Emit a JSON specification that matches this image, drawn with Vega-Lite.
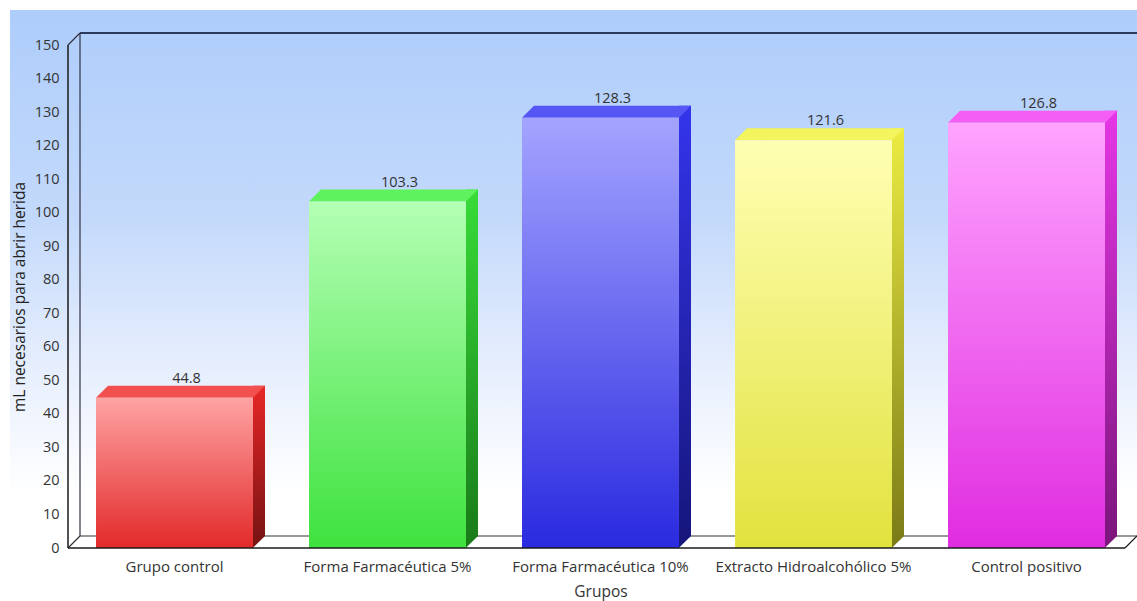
{
  "$schema": "https://vega.github.io/schema/vega-lite/v6.json",
  "width": 1127,
  "height": 591,
  "autosize": {"type": "none"},
  "padding": {"left": 10, "top": 10, "right": 0, "bottom": 0},
  "background": "white",
  "config": {
    "font": "Open Sans",
    "view": {
      "stroke": null,
      "fill": {"gradient": "linear", "x1": 0, "y1": 0, "x2": 0, "y2": 1,
        "stops": [
          {"offset": 0, "color": "#aecdfb"},
          {"offset": 0.35, "color": "#c3d9fb"},
          {"offset": 0.6, "color": "#e6eefd"},
          {"offset": 0.82, "color": "#ffffff"},
          {"offset": 1, "color": "#ffffff"}
        ]}
    },
    "axis": {"grid": false},
    "axisY": {"offset": -58, "domain": false, "ticks": false, "tickSize": 0, "labelPadding": 9, "tickCount": 15,
              "labelOverlap": false, "labelFontSize": 14.5, "labelColor": "#333333", "labelFont": "Open Sans",
              "titleFont": "Open Sans", "titleFontSize": 15.5, "titleFontWeight": "normal", "titleColor": "#222222", "titlePadding": 7},
    "axisX": {"offset": -53, "domain": false, "ticks": false, "tickSize": 0, "labelPadding": 11, "labelAngle": 0,
              "labelFontSize": 15, "labelColor": "#333333", "labelLimit": 400, "labelFont": "Open Sans", "labelOverlap": false,
              "titleFont": "Open Sans", "titleFontSize": 15.5, "titleFontWeight": "normal", "titleColor": "#333333", "titlePadding": 10}
  },
  "data": {
    "values": [
      {"grupo": "Grupo control", "valor": 44.8},
      {"grupo": "Forma Farmacéutica 5%", "valor": 103.3},
      {"grupo": "Forma Farmacéutica 10%", "valor": 128.3},
      {"grupo": "Extracto Hidroalcohólico 5%", "valor": 121.6},
      {"grupo": "Control positivo", "valor": 126.8}
    ]
  },
  "resolve": {"scale": {"x": "independent"}},
  "layer": [
    {
      "data": {"values": [{}]},
      "layer": [
        {"mark": {"type": "rule", "stroke": "#333344", "strokeWidth": 1.2, "xOffset": 12, "x2Offset": 12, "yOffset": -12, "y2Offset": -12},
         "encoding": {
           "x": {"datum": 0, "type": "quantitative", "scale": {"domain": [0, 1], "range": [58, 1115]}, "axis": null},
           "x2": {"datum": 0},
           "y": {"datum": 0, "type": "quantitative", "scale": {"domain": [0, 150], "range": [538, 35], "nice": false}, "title": "mL necesarios para abrir herida"},
           "y2": {"datum": 150}}},
        {"mark": {"type": "rule", "stroke": "#2b3a5c", "strokeWidth": 2, "xOffset": 12, "x2Offset": 12, "yOffset": -12, "y2Offset": -12},
         "encoding": {
           "x": {"datum": 0, "type": "quantitative", "scale": {"domain": [0, 1], "range": [58, 1115]}, "axis": null},
           "x2": {"datum": 1.05},
           "y": {"datum": 150, "type": "quantitative", "scale": {"domain": [0, 150], "range": [538, 35], "nice": false}, "title": "mL necesarios para abrir herida"},
           "y2": {"datum": 150}}},
        {"mark": {"type": "rule", "stroke": "#333344", "strokeWidth": 1.2, "x2Offset": 12, "y2Offset": -12},
         "encoding": {
           "x": {"datum": 0, "type": "quantitative", "scale": {"domain": [0, 1], "range": [58, 1115]}, "axis": null},
           "x2": {"datum": 0},
           "y": {"datum": 150, "type": "quantitative", "scale": {"domain": [0, 150], "range": [538, 35], "nice": false}, "title": "mL necesarios para abrir herida"},
           "y2": {"datum": 150}}},
        {"mark": {"type": "rule", "stroke": "#333333", "strokeWidth": 1.2, "x2Offset": 12, "y2Offset": -12},
         "encoding": {
           "x": {"datum": 0, "type": "quantitative", "scale": {"domain": [0, 1], "range": [58, 1115]}, "axis": null},
           "x2": {"datum": 0},
           "y": {"datum": 0, "type": "quantitative", "scale": {"domain": [0, 150], "range": [538, 35], "nice": false}, "title": "mL necesarios para abrir herida"},
           "y2": {"datum": 0}}},
        {"mark": {"type": "rule", "stroke": "#333333", "strokeWidth": 1.2, "xOffset": 12, "x2Offset": 12, "yOffset": -12, "y2Offset": -12},
         "encoding": {
           "x": {"datum": 0, "type": "quantitative", "scale": {"domain": [0, 1], "range": [58, 1115]}, "axis": null},
           "x2": {"datum": 1},
           "y": {"datum": 0, "type": "quantitative", "scale": {"domain": [0, 150], "range": [538, 35], "nice": false}, "title": "mL necesarios para abrir herida"},
           "y2": {"datum": 0}}}
      ]
    },
    {
      "encoding": {
        "x": {"field": "grupo", "type": "nominal",
          "sort": ["Grupo control", "Forma Farmacéutica 5%", "Forma Farmacéutica 10%", "Extracto Hidroalcohólico 5%", "Control positivo"],
          "scale": {"domain": ["Grupo control", "Forma Farmacéutica 5%", "Forma Farmacéutica 10%", "Extracto Hidroalcohólico 5%", "Control positivo"],
                    "range": [58, 1123], "paddingInner": 0.263, "paddingOuter": 0.1315},
          "axis": {"orient": "bottom"}, "title": "Grupos"},
        "y": {"field": "valor", "type": "quantitative",
          "scale": {"domain": [0, 150], "range": [538, 35], "nice": false},
          "axis": {"orient": "left"}, "title": "mL necesarios para abrir herida"}
      },
      "layer": [
        {
          "transform": [{"filter": {"field": "grupo", "equal": "Grupo control"}}],
          "layer": [
            {"mark": {"type": "bar", "width": 12, "xOffset": 84.5, "yOffset": -12, "y2Offset": -12, "stroke": null,
              "fill": {"gradient": "linear", "x1": 0, "y1": 0, "x2": 0, "y2": 1, "stops": [{"offset": 0, "color": "#e82626"}, {"offset": 1, "color": "#7d1414"}]}},
             "encoding": {"y2": {"datum": 0}}},
            {"mark": {"type": "point", "shape": "M0.99,-0.153L0.99,0.005L1.153,-0.153Z", "size": 24649, "filled": true, "opacity": 1, "strokeWidth": 0, "fill": "#7d1414"},
             "encoding": {"y": {"datum": 0, "type": "quantitative", "title": "mL necesarios para abrir herida"}}},
            {"mark": {"type": "point", "shape": "M-1,0L1,0L1.15287,-0.15287L-0.84713,-0.15287Z", "size": 24649, "filled": true, "opacity": 1, "strokeWidth": 0, "fill": "#f24f4f"}},
            {"mark": {"type": "bar", "stroke": null,
              "fill": {"gradient": "linear", "x1": 0, "y1": 0, "x2": 0, "y2": 1, "stops": [{"offset": 0, "color": "#ffa3a3"}, {"offset": 1, "color": "#e32929"}]}},
             "encoding": {"y2": {"datum": 0}}}
          ]
        },
        {
          "transform": [{"filter": {"field": "grupo", "equal": "Forma Farmacéutica 5%"}}],
          "layer": [
            {"mark": {"type": "bar", "width": 12, "xOffset": 84.5, "yOffset": -12, "y2Offset": -12, "stroke": null,
              "fill": {"gradient": "linear", "x1": 0, "y1": 0, "x2": 0, "y2": 1, "stops": [{"offset": 0, "color": "#38dc38"}, {"offset": 1, "color": "#1a7d1a"}]}},
             "encoding": {"y2": {"datum": 0}}},
            {"mark": {"type": "point", "shape": "M0.99,-0.153L0.99,0.005L1.153,-0.153Z", "size": 24649, "filled": true, "opacity": 1, "strokeWidth": 0, "fill": "#1a7d1a"},
             "encoding": {"y": {"datum": 0, "type": "quantitative", "title": "mL necesarios para abrir herida"}}},
            {"mark": {"type": "point", "shape": "M-1,0L1,0L1.15287,-0.15287L-0.84713,-0.15287Z", "size": 24649, "filled": true, "opacity": 1, "strokeWidth": 0, "fill": "#5ef25e"}},
            {"mark": {"type": "bar", "stroke": null,
              "fill": {"gradient": "linear", "x1": 0, "y1": 0, "x2": 0, "y2": 1, "stops": [{"offset": 0, "color": "#b4ffb4"}, {"offset": 1, "color": "#3ee23e"}]}},
             "encoding": {"y2": {"datum": 0}}}
          ]
        },
        {
          "transform": [{"filter": {"field": "grupo", "equal": "Forma Farmacéutica 10%"}}],
          "layer": [
            {"mark": {"type": "bar", "width": 12, "xOffset": 84.5, "yOffset": -12, "y2Offset": -12, "stroke": null,
              "fill": {"gradient": "linear", "x1": 0, "y1": 0, "x2": 0, "y2": 1, "stops": [{"offset": 0, "color": "#3434ec"}, {"offset": 1, "color": "#16167d"}]}},
             "encoding": {"y2": {"datum": 0}}},
            {"mark": {"type": "point", "shape": "M0.99,-0.153L0.99,0.005L1.153,-0.153Z", "size": 24649, "filled": true, "opacity": 1, "strokeWidth": 0, "fill": "#16167d"},
             "encoding": {"y": {"datum": 0, "type": "quantitative", "title": "mL necesarios para abrir herida"}}},
            {"mark": {"type": "point", "shape": "M-1,0L1,0L1.15287,-0.15287L-0.84713,-0.15287Z", "size": 24649, "filled": true, "opacity": 1, "strokeWidth": 0, "fill": "#5656f4"}},
            {"mark": {"type": "bar", "stroke": null,
              "fill": {"gradient": "linear", "x1": 0, "y1": 0, "x2": 0, "y2": 1, "stops": [{"offset": 0, "color": "#a4a4ff"}, {"offset": 1, "color": "#2a2ae0"}]}},
             "encoding": {"y2": {"datum": 0}}}
          ]
        },
        {
          "transform": [{"filter": {"field": "grupo", "equal": "Extracto Hidroalcohólico 5%"}}],
          "layer": [
            {"mark": {"type": "bar", "width": 12, "xOffset": 84.5, "yOffset": -12, "y2Offset": -12, "stroke": null,
              "fill": {"gradient": "linear", "x1": 0, "y1": 0, "x2": 0, "y2": 1, "stops": [{"offset": 0, "color": "#ecec42"}, {"offset": 1, "color": "#7d7d18"}]}},
             "encoding": {"y2": {"datum": 0}}},
            {"mark": {"type": "point", "shape": "M0.99,-0.153L0.99,0.005L1.153,-0.153Z", "size": 24649, "filled": true, "opacity": 1, "strokeWidth": 0, "fill": "#7d7d18"},
             "encoding": {"y": {"datum": 0, "type": "quantitative", "title": "mL necesarios para abrir herida"}}},
            {"mark": {"type": "point", "shape": "M-1,0L1,0L1.15287,-0.15287L-0.84713,-0.15287Z", "size": 24649, "filled": true, "opacity": 1, "strokeWidth": 0, "fill": "#f4f45e"}},
            {"mark": {"type": "bar", "stroke": null,
              "fill": {"gradient": "linear", "x1": 0, "y1": 0, "x2": 0, "y2": 1, "stops": [{"offset": 0, "color": "#ffffb4"}, {"offset": 1, "color": "#e2e23e"}]}},
             "encoding": {"y2": {"datum": 0}}}
          ]
        },
        {
          "transform": [{"filter": {"field": "grupo", "equal": "Control positivo"}}],
          "layer": [
            {"mark": {"type": "bar", "width": 12, "xOffset": 84.5, "yOffset": -12, "y2Offset": -12, "stroke": null,
              "fill": {"gradient": "linear", "x1": 0, "y1": 0, "x2": 0, "y2": 1, "stops": [{"offset": 0, "color": "#e636e6"}, {"offset": 1, "color": "#7d167d"}]}},
             "encoding": {"y2": {"datum": 0}}},
            {"mark": {"type": "point", "shape": "M0.99,-0.153L0.99,0.005L1.153,-0.153Z", "size": 24649, "filled": true, "opacity": 1, "strokeWidth": 0, "fill": "#7d167d"},
             "encoding": {"y": {"datum": 0, "type": "quantitative", "title": "mL necesarios para abrir herida"}}},
            {"mark": {"type": "point", "shape": "M-1,0L1,0L1.15287,-0.15287L-0.84713,-0.15287Z", "size": 24649, "filled": true, "opacity": 1, "strokeWidth": 0, "fill": "#f45ef4"}},
            {"mark": {"type": "bar", "stroke": null,
              "fill": {"gradient": "linear", "x1": 0, "y1": 0, "x2": 0, "y2": 1, "stops": [{"offset": 0, "color": "#ffa4ff"}, {"offset": 1, "color": "#e02ce0"}]}},
             "encoding": {"y2": {"datum": 0}}}
          ]
        },
        {
          "mark": {"type": "text", "xOffset": 12, "yOffset": -15, "baseline": "alphabetic", "align": "center", "fontSize": 14.5, "fill": "#333333", "font": "Open Sans"},
          "encoding": {"text": {"field": "valor", "type": "quantitative", "format": ".1f"}}
        }
      ]
    },
    {
      "data": {"values": [{}]},
      "layer": [
        {"mark": {"type": "rule", "stroke": "#1a1a1a", "strokeWidth": 1.5},
         "encoding": {
           "x": {"datum": 0, "type": "quantitative", "scale": {"domain": [0, 1], "range": [58, 1115]}, "axis": null},
           "x2": {"datum": 0},
           "y": {"datum": 0, "type": "quantitative", "scale": {"domain": [0, 150], "range": [538, 35], "nice": false}, "title": "mL necesarios para abrir herida"},
           "y2": {"datum": 150}}},
        {"mark": {"type": "rule", "stroke": "#1a1a1a", "strokeWidth": 1.5},
         "encoding": {
           "x": {"datum": 0, "type": "quantitative", "scale": {"domain": [0, 1], "range": [58, 1115]}, "axis": null},
           "x2": {"datum": 1},
           "y": {"datum": 0, "type": "quantitative", "scale": {"domain": [0, 150], "range": [538, 35], "nice": false}, "title": "mL necesarios para abrir herida"},
           "y2": {"datum": 0}}},
        {"mark": {"type": "rule", "stroke": "#1a1a1a", "strokeWidth": 1.2, "x2Offset": 12, "y2Offset": -12},
         "encoding": {
           "x": {"datum": 1, "type": "quantitative", "scale": {"domain": [0, 1], "range": [58, 1115]}, "axis": null},
           "x2": {"datum": 1},
           "y": {"datum": 0, "type": "quantitative", "scale": {"domain": [0, 150], "range": [538, 35], "nice": false}, "title": "mL necesarios para abrir herida"},
           "y2": {"datum": 0}}}
      ]
    }
  ]
}
